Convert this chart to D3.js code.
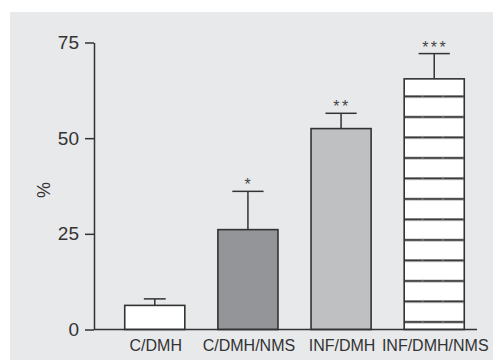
<!DOCTYPE html>
<html>
<head>
<meta charset="utf-8">
<script src="https://cdn.jsdelivr.net/npm/d3@7"></script>
<style>
  body { margin: 0; background: #fff; }
  svg { display: block; }
</style>
</head>
<body>
<div id="chart"></div>
<script>
// data
const groups = ["C/DMH", "C/DMH/NMS", "INF/DMH", "INF/DMH/NMS"];
const means = [6.3, 26.1, 52.5, 65.5];
const errors = [1.7, 10.0, 4.0, 6.6];
const stars = ["", "*", "**", "***"];
const yTicks = [0, 25, 50, 75];

const W = 493, H = 360;
const fills = ["#ffffff", "#949598", "#bfc0c2", "url(#hlines)"];
const ink = "#333333";

const svg = d3.select("#chart").append("svg")
    .attr("width", W)
    .attr("height", H);

// hatch pattern for last bar (horizontal lines + faint ticks)
const defs = svg.append("defs");
const pat = defs.append("pattern")
    .attr("id", "hlines")
    .attr("patternUnits", "userSpaceOnUse")
    .attr("x", 0).attr("y", 4.5)
    .attr("width", 20.5).attr("height", 20.5);
pat.append("rect").attr("width", 20.5).attr("height", 20.5).attr("fill", "#fff");
pat.append("line")
    .attr("x1", 0).attr("x2", 20.5)
    .attr("y1", 10).attr("y2", 10)
    .attr("stroke", ink).attr("stroke-width", 2.1);
pat.append("line")
    .attr("x1", 12.5).attr("x2", 12.5)
    .attr("y1", 8.3).attr("y2", 11.7)
    .attr("stroke", "#aaa").attr("stroke-width", 0.7);

// grey panel
svg.append("rect")
    .attr("x", 10).attr("y", 12)
    .attr("width", W - 10).attr("height", H - 12)
    .attr("fill", "#e8e9eb");

const x = d3.scaleBand()
    .domain(groups)
    .range([94, 495])
    .paddingInner(0.355)
    .paddingOuter(0.33);

const y = d3.scaleLinear()
    .domain([0, 75])
    .range([329.5, 42.5]);

const g = svg.append("g");

// bars
g.selectAll(".bar")
    .data(groups)
    .enter().append("rect")
    .attr("class", "bar")
    .attr("x", d => x(d))
    .attr("y", (d, i) => y(means[i]))
    .attr("width", x.bandwidth())
    .attr("height", (d, i) => y(0) - y(means[i]))
    .attr("fill", (d, i) => fills[i])
    .attr("stroke", ink)
    .attr("stroke-width", 1.6);

// error bars
const cap = x.bandwidth() * 0.26;
const eb = g.selectAll(".err")
    .data(groups)
    .enter().append("g")
    .attr("class", "err")
    .attr("stroke", ink)
    .attr("stroke-width", 1.5);
eb.append("line")
    .attr("x1", d => x(d) + x.bandwidth() / 2)
    .attr("x2", d => x(d) + x.bandwidth() / 2)
    .attr("y1", (d, i) => y(means[i]))
    .attr("y2", (d, i) => y(means[i] + errors[i]));
eb.append("line")
    .attr("x1", (d, i) => x(d) + x.bandwidth() / 2 - (i === 0 ? cap * 0.7 : cap))
    .attr("x2", (d, i) => x(d) + x.bandwidth() / 2 + (i === 0 ? cap * 0.7 : cap))
    .attr("y1", (d, i) => y(means[i] + errors[i]))
    .attr("y2", (d, i) => y(means[i] + errors[i]));

// significance stars
g.selectAll(".star")
    .data(groups)
    .enter().append("text")
    .attr("class", "star")
    .attr("x", d => x(d) + x.bandwidth() / 2 + 1)
    .attr("y", (d, i) => y(means[i] + errors[i]) - 1)
    .attr("text-anchor", "middle")
    .style("font-family", "'Liberation Sans', Arial, sans-serif")
    .style("font-size", "16px")
    .style("letter-spacing", "2.5px")
    .attr("fill", "#444")
    .text((d, i) => stars[i]);

// y axis
const yAxis = svg.append("g")
    .attr("transform", "translate(94,0)")
    .call(d3.axisLeft(y).tickValues(yTicks).tickSize(9).tickPadding(6).tickSizeOuter(0));
yAxis.select(".domain").attr("stroke", ink).attr("stroke-width", 1.5);
yAxis.selectAll(".tick line").attr("stroke", ink).attr("stroke-width", 1.5);
yAxis.selectAll(".tick text")
    .attr("fill", ink)
    .style("font-family", "'Liberation Sans', Arial, sans-serif")
    .style("font-size", "19px");

// x axis line
svg.append("line")
    .attr("x1", 94).attr("x2", 477)
    .attr("y1", y(0)).attr("y2", y(0))
    .attr("stroke", ink).attr("stroke-width", 1.5);

// x labels
svg.selectAll(".xlab")
    .data(groups)
    .enter().append("text")
    .attr("class", "xlab")
    .attr("x", d => x(d) + x.bandwidth() / 2 + 1)
    .attr("y", 350.5)
    .attr("text-anchor", "middle")
    .style("font-family", "'Liberation Sans', Arial, sans-serif")
    .style("font-size", "16px")
    .attr("fill", ink)
    .text(d => d);

// y label
svg.append("text")
    .attr("transform", "translate(50,190) rotate(-90)")
    .attr("text-anchor", "middle")
    .style("font-family", "'Liberation Sans', Arial, sans-serif")
    .style("font-size", "18px")
    .attr("fill", ink)
    .text("%");
</script>
</body>
</html>
